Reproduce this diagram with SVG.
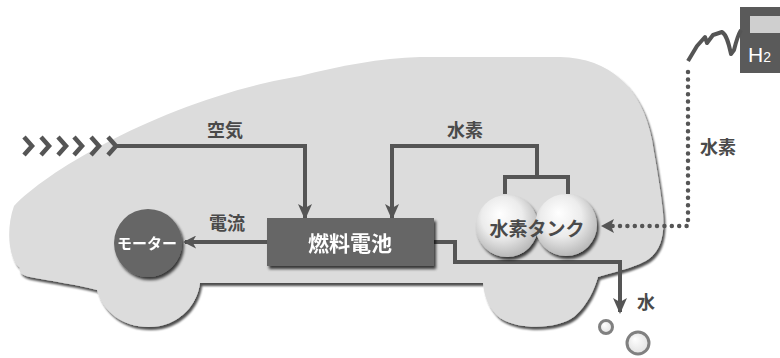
<svg xmlns="http://www.w3.org/2000/svg" width="780" height="358" viewBox="0 0 780 358">
  <defs>
    <style>
      .flow { fill: none; stroke: #555; stroke-width: 4; stroke-linejoin: miter; }
      .dots { fill: none; stroke: #555; stroke-width: 4.5; stroke-linecap: round; stroke-dasharray: 0 7.4; }
      .lbl { font-family: "Noto Sans CJK JP", "Noto Sans", sans-serif; font-weight: 700; fill: #4a4a4a; }
      .wlbl { font-family: "Noto Sans CJK JP", "Noto Sans", sans-serif; font-weight: 700; fill: #ffffff; }
      .dark { fill: #666; }
    </style>
    <marker id="head" viewBox="0 0 16 14" refX="14" refY="7" markerWidth="16" markerHeight="14" markerUnits="userSpaceOnUse" orient="auto">
      <path d="M0,0 L16,7 L0,14 L4,7 Z" fill="#555"/>
    </marker>
    <marker id="headS" viewBox="0 0 14 14" refX="12" refY="7" markerWidth="13" markerHeight="13" markerUnits="userSpaceOnUse" orient="auto">
      <path d="M0,0 L14,7 L0,14 L4,7 Z" fill="#555"/>
    </marker>
    <filter id="shadow" x="-10%" y="-10%" width="130%" height="140%">
      <feGaussianBlur in="SourceAlpha" stdDeviation="1.6"/>
      <feOffset dx="2" dy="3" result="b"/>
      <feComponentTransfer><feFuncA type="linear" slope="0.75"/></feComponentTransfer>
      <feMerge><feMergeNode/><feMergeNode in="SourceGraphic"/></feMerge>
    </filter>
    <filter id="bodyShadow" x="-5%" y="-10%" width="115%" height="130%">
      <feGaussianBlur in="SourceAlpha" stdDeviation="1.3"/>
      <feOffset dx="2" dy="3"/>
      <feComponentTransfer><feFuncA type="linear" slope="0.7"/></feComponentTransfer>
      <feMerge><feMergeNode/><feMergeNode in="SourceGraphic"/></feMerge>
    </filter>
    <radialGradient id="sphere" cx="0.45" cy="0.4" r="0.6" fx="0.38" fy="0.3">
      <stop offset="0" stop-color="#ffffff"/>
      <stop offset="0.55" stop-color="#ececec"/>
      <stop offset="1" stop-color="#b9b9b9"/>
    </radialGradient>
    <radialGradient id="bubble" cx="0.5" cy="0.5" r="0.55" fx="0.35" fy="0.3">
      <stop offset="0" stop-color="#ffffff"/>
      <stop offset="1" stop-color="#e0e0e0"/>
    </radialGradient>
  </defs>

  <!-- car silhouette -->
  <g id="car-body" filter="url(#bodyShadow)">
    <path fill="#dcdcdc" d="M20,268 C8,258 6,228 14,206 C50,168 170,98 300,76 C340,66 380,58 420,57 L560,57 C610,58 642,88 652,140 C657,170 661,192 663,213 C665,236 660,250 650,258 C640,266 615,272 598,277 C594,290 588,304 575,316 C558,330 518,330 500,318 C489,309 484,296 483,283 L200,283 C198,300 186,320 160,326 C128,331 104,315 97,290 C80,285 50,281 30,277 C22,275 18,272 20,268 Z"/>
  </g>

  <!-- hydrogen station -->
  <g id="h2-station">
    <rect x="740" y="7" width="44" height="66" fill="#5a5a5a"/>
    <rect x="750" y="16" width="34" height="17" fill="#cfcfcf"/>
    <text x="748" y="62" font-family="Liberation Sans, Arial, sans-serif" font-size="21" fill="#fff">H<tspan font-size="14">2</tspan></text>
    <path d="M688,61 L697,46 L705,37 L707,43 L713,35 L722,32 C727,35 729,45 731,54 L734,50 C736,42 738,35 741,30" fill="none" stroke="#555" stroke-width="4" stroke-linejoin="round"/>
  </g>

  <!-- connectors -->
  <g id="connectors">
    <!-- air intake -->
    <g id="air-intake" fill="none" stroke="#555" stroke-width="4.5" stroke-linejoin="miter">
      <polyline points="24,137 32,146 24,155"/>
      <polyline points="41,137 49,146 41,155"/>
      <polyline points="58,137 66,146 58,155"/>
      <polyline points="74,137 82,146 74,155"/>
      <polyline points="91,137 99,146 91,155"/>
      <polyline points="108,137 116,146 108,155"/>
    </g>
    <polyline class="flow" points="116,146 305,146 305,218" marker-end="url(#head)"/>
    <!-- hydrogen feed from tanks -->
    <polyline class="flow" points="537,177 537,146 392,146 392,218" marker-end="url(#head)"/>
    <polyline class="flow" points="505,194 505,177 568,177 568,194"/>
    <!-- electric current to motor -->
    <line class="flow" x1="268" y1="242" x2="185" y2="242" marker-end="url(#headS)"/>
    <!-- water out -->
    <polyline class="flow" points="434,242 455,242 455,262 620,262 620,312" marker-end="url(#head)"/>
    <!-- refuelling line -->
    <path class="dots" d="M688,72 L688,226 L612,226"/>
    <path d="M601,226 L614,219 L611,226 L614,233 Z" fill="#555"/>
  </g>

  <!-- fuel cell -->
  <g id="fuel-cell" filter="url(#shadow)">
    <rect x="267" y="218" width="167" height="48" class="dark"/>
    <text class="wlbl" x="350" y="251" font-size="21" text-anchor="middle">燃料電池</text>
  </g>

  <!-- motor -->
  <g id="motor" filter="url(#shadow)">
    <circle cx="148" cy="243" r="34" class="dark"/>
    <text class="wlbl" x="147" y="249" font-size="15" text-anchor="middle">モーター</text>
  </g>

  <!-- hydrogen tanks -->
  <g id="h2-tank">
    <g filter="url(#shadow)">
      <circle cx="507" cy="226" r="31" fill="url(#sphere)"/>
      <circle cx="566" cy="225" r="31" fill="url(#sphere)"/>
    </g>
    <text class="lbl" x="537" y="236" font-size="19" text-anchor="middle" fill="#333">水素タンク</text>
  </g>

  <!-- water bubbles -->
  <g id="water-bubbles" fill="url(#bubble)" stroke="#808080" stroke-width="3">
    <circle cx="606" cy="327" r="6.5"/>
    <circle cx="638" cy="343" r="11"/>
  </g>

  <!-- labels -->
  <g id="labels">
    <text class="lbl" x="225" y="137" font-size="18" text-anchor="middle">空気</text>
    <text class="lbl" x="465" y="137" font-size="18" text-anchor="middle">水素</text>
    <text class="lbl" x="227" y="230" font-size="18" text-anchor="middle">電流</text>
    <text class="lbl" x="700" y="154" font-size="18">水素</text>
    <text class="lbl" x="637" y="309" font-size="18">水</text>
  </g>
</svg>
